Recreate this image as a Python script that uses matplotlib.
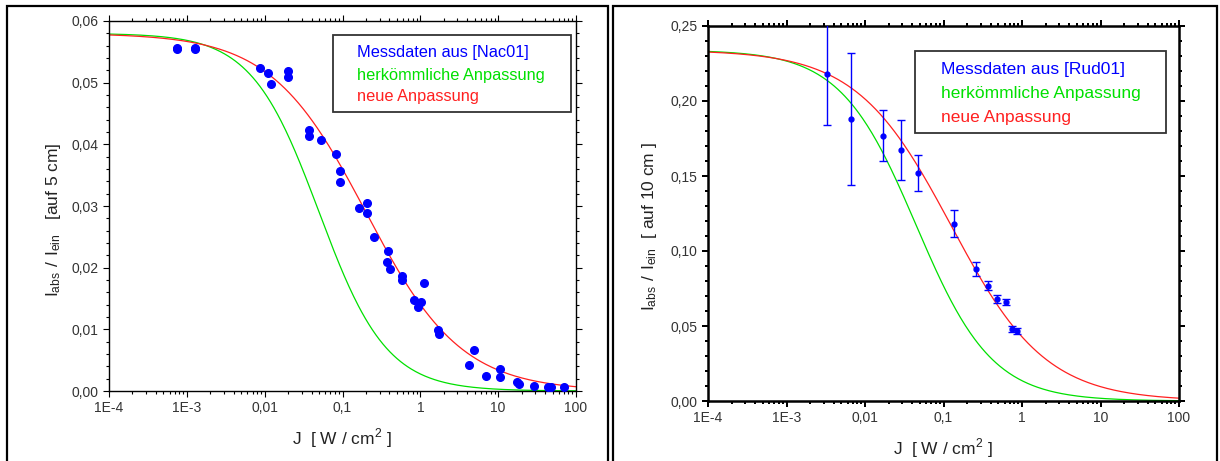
import numpy as np
import matplotlib
matplotlib.use('Agg')
import matplotlib.pyplot as plt
from matplotlib.patches import Rectangle
from matplotlib.ticker import FixedLocator, FuncFormatter, LogLocator, NullFormatter, MultipleLocator

plt.rcParams['font.family'] = ['Liberation Sans', 'DejaVu Sans']
plt.rcParams['mathtext.fontset'] = 'custom'
plt.rcParams['mathtext.rm'] = 'Liberation Sans'

# left panel: Messdaten aus [Nac01]
nac_j = [7.5e-4, 7.5e-4, 1.26e-3, 1.26e-3, 8.7e-3, 0.0112, 0.0119, 0.0202, 0.0202,
         0.0367, 0.0367, 0.0525, 0.083, 0.0933, 0.0933, 0.162, 0.204, 0.204, 0.254,
         0.385, 0.372, 0.407, 0.582, 0.582, 1.10, 0.822, 0.944, 1.01, 1.68, 1.74,
         4.2, 4.9, 6.9, 10.6, 10.6, 17.4, 18.6, 28.5, 43.7, 47.9, 70.8]
nac_val = [0.0557, 0.0554, 0.0557, 0.0554, 0.0524, 0.0516, 0.0498, 0.0519, 0.0510,
           0.0423, 0.0413, 0.0407, 0.0385, 0.0357, 0.0339, 0.0297, 0.0305, 0.0288, 0.0249,
           0.0227, 0.0209, 0.0198, 0.0186, 0.0180, 0.0175, 0.0148, 0.0136, 0.0145, 0.0099, 0.0092,
           0.0042, 0.0067, 0.0025, 0.0035, 0.0022, 0.0015, 0.0011, 0.0008, 0.00065, 0.0006, 0.0007]

# right panel: Messdaten aus [Rud01]
rud_j = [3.3e-3, 6.6e-3, 0.0172, 0.0285, 0.0477, 0.136, 0.261, 0.367, 0.483, 0.62, 0.755, 0.875]
rud_val = [0.218, 0.188, 0.177, 0.167, 0.152, 0.118, 0.088, 0.077, 0.068, 0.066, 0.048, 0.047]
rud_err = [0.034, 0.044, 0.017, 0.020, 0.012, 0.009, 0.0047, 0.003, 0.0025, 0.002, 0.002, 0.002]

# fit parameters a0 / (1 + (J/Js)^p)
fit_left_old = (0.058, 0.05, 1.0)
fit_left_new = (0.058, 0.2, 0.71)
fit_right_old = (0.234, 0.045, 0.9)
fit_right_new = (0.234, 0.125, 0.72)

xticks = [1e-4, 1e-3, 1e-2, 1e-1, 1, 10, 100]
xlabels = ['1E-4', '1E-3', '0,01', '0,1', '1', '10', '100']

BLUE = '#0000ff'
GREEN = '#00e000'
RED = '#ff2020'


def fit(params, j):
    a0, js, p = params
    return a0 / (1 + (j / js) ** p)


def style_axes(ax, ymax, ymajor, yminor, spine_lw):
    ax.set_xscale('log')
    ax.set_xlim(1e-4, 100)
    ax.set_ylim(0, ymax)
    ax.xaxis.set_major_locator(FixedLocator(xticks))
    ax.xaxis.set_major_formatter(FuncFormatter(lambda v, pos: xlabels[xticks.index(v)] if v in xticks else ''))
    ax.xaxis.set_minor_locator(LogLocator(base=10, subs=np.arange(2, 10), numticks=20))
    ax.xaxis.set_minor_formatter(NullFormatter())
    ax.yaxis.set_major_locator(MultipleLocator(ymajor))
    ax.yaxis.set_minor_locator(MultipleLocator(yminor))
    ax.yaxis.set_major_formatter(FuncFormatter(lambda v, pos: ('%.2f' % v).replace('.', ',')))
    ax.tick_params(which='both', direction='out', top=True, right=True, labelsize=10,
                   labelcolor='#333333', width=spine_lw * 0.8)
    ax.tick_params(which='major', length=4.3, pad=3)
    ax.tick_params(which='minor', length=2.2)
    for s in ax.spines.values():
        s.set_linewidth(spine_lw)


def legend_box(ax, x0, y0, x1, y1, tx, rows, names, size):
    ax.add_patch(Rectangle((x0, y0), x1 - x0, y1 - y0, transform=ax.transAxes,
                           fill=False, edgecolor='#333333', linewidth=1.3, zorder=5))
    for y, name, c in zip(rows, names, [BLUE, GREEN, RED]):
        ax.text(tx, y, name, transform=ax.transAxes, color=c, fontsize=size,
                va='center', ha='left', zorder=6)


fig = plt.figure(figsize=(12.2, 4.61), dpi=100)

# panel frames
for x0, x1 in [(7, 608), (613, 1217)]:
    fig.patches.append(Rectangle((x0 / 1220, -0.05), (x1 - x0) / 1220, 1.05 - 6.5 / 461,
                                 transform=fig.transFigure, fill=False,
                                 edgecolor='black', linewidth=1.6))

jj = np.logspace(-4, 2, 400)

ax1 = fig.add_axes([109 / 1220, 70 / 461, 467 / 1220, 370 / 461])
ax1.plot(jj, fit(fit_left_old, jj), color=GREEN, lw=0.9, zorder=2)
ax1.plot(jj, fit(fit_left_new, jj), color=RED, lw=0.9, zorder=2)
ax1.plot(nac_j, nac_val, 'o', color=BLUE, ms=5.5, zorder=3)
style_axes(ax1, 0.06, 0.01, 0.002, 1.0)
ax1.set_xlabel(r'J  [ W / cm$^{\mathregular{2}}$ ]', fontsize=12.5, va='center', color='#222222')
ax1.xaxis.set_label_coords(0.499, -0.127)
ax1.set_ylabel(r'$\mathregular{I_{abs}\ /\ I_{ein}}$   [auf 5 cm]', fontsize=12.5, va='center', color='#222222')
ax1.yaxis.set_label_coords(-0.118, 0.462)
legend_box(ax1, 0.48, 0.754, 0.989, 0.962, 0.531, [0.914, 0.854, 0.797],
           ['Messdaten aus [Nac01]', 'herkömmliche Anpassung', 'neue Anpassung'], 11.8)

ax2 = fig.add_axes([708 / 1220, 60 / 461, 471 / 1220, 375 / 461])
ax2.plot(jj, fit(fit_right_old, jj), color=GREEN, lw=0.9, zorder=2)
ax2.plot(jj, fit(fit_right_new, jj), color=RED, lw=0.9, zorder=2)
ax2.errorbar(rud_j, rud_val, yerr=rud_err, fmt='o', color=BLUE, ms=3.5, elinewidth=1.0,
             capsize=3, capthick=1.0, zorder=3)
style_axes(ax2, 0.25, 0.05, 0.01, 1.8)
ax2.set_xlabel(r'J  [ W / cm$^{\mathregular{2}}$ ]', fontsize=12.5, va='center', color='#222222')
ax2.xaxis.set_label_coords(0.499, -0.126)
ax2.set_ylabel(r'$\mathregular{I_{abs}\ /\ I_{ein}}$  [ auf 10 cm ]', fontsize=12.5, va='center', color='#222222')
ax2.yaxis.set_label_coords(-0.125, 0.464)
legend_box(ax2, 0.439, 0.715, 0.972, 0.933, 0.495, [0.885, 0.821, 0.757],
           ['Messdaten aus [Rud01]', 'herkömmliche Anpassung', 'neue Anpassung'], 12.5)

fig.savefig('out.png', dpi=100)
